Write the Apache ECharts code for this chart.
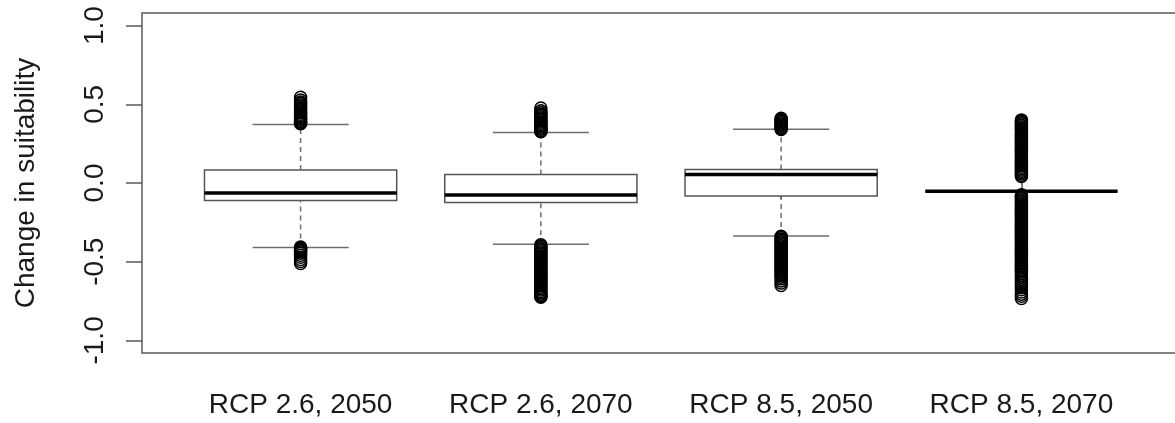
<!DOCTYPE html>
<html>
<head>
<meta charset="utf-8">
<script src="https://cdn.jsdelivr.net/npm/echarts@6/dist/echarts.min.js"></script>
<style>
  html, body { margin: 0; padding: 0; background: #fff; }
  #chart { width: 1175px; height: 423px; }
</style>
</head>
<body>
<div id="chart"></div>
<script>
// Scenario groups along the x axis
const categories = ['RCP 2.6, 2050', 'RCP 2.6, 2070', 'RCP 8.5, 2050', 'RCP 8.5, 2070'];

// Five-number summaries per group: [lower whisker, Q1, median, Q3, upper whisker]
const boxStats = [
  [-0.410, -0.111, -0.063, 0.082, 0.372],
  [-0.389, -0.124, -0.077, 0.054, 0.321],
  [-0.336, -0.082, 0.054, 0.086, 0.341],
  [-0.052, -0.052, -0.052, -0.052, -0.052]
];

// Outlying values per group
const outliers1 = [
  0.545, 0.527, 0.515, 0.506, 0.497, 0.489, 0.480, 0.471, 0.463, 0.454, 0.446,
  0.437, 0.429, 0.421, 0.413, 0.405, 0.398, 0.391, 0.385, 0.380, 0.376,
  -0.406, -0.411, -0.417, -0.423, -0.429, -0.436, -0.446, -0.459, -0.472, -0.486, -0.499, -0.512
];
const outliers2 = [
  0.476, 0.459, 0.448, 0.439, 0.430, 0.421, 0.413, 0.404, 0.396, 0.388, 0.379,
  0.371, 0.363, 0.356, 0.348, 0.341, 0.334, 0.329, 0.325,
  -0.393, -0.401, -0.410, -0.418, -0.427, -0.436, -0.444, -0.453, -0.462, -0.470,
  -0.479, -0.488, -0.497, -0.505, -0.514, -0.523, -0.531, -0.540, -0.549, -0.557,
  -0.566, -0.575, -0.584, -0.592, -0.601, -0.610, -0.618, -0.627, -0.636, -0.645,
  -0.653, -0.662, -0.671, -0.680, -0.689, -0.697, -0.706, -0.714, -0.721, -0.726
];
const outliers3 = [
  0.411, 0.404, 0.397, 0.390, 0.382, 0.375, 0.368, 0.361, 0.354, 0.347, 0.340,
  -0.339, -0.347, -0.356, -0.364, -0.373, -0.381, -0.390, -0.399, -0.407, -0.416,
  -0.425, -0.433, -0.442, -0.451, -0.459, -0.468, -0.477, -0.485, -0.494, -0.503,
  -0.511, -0.520, -0.529, -0.537, -0.546, -0.555, -0.563, -0.572, -0.581, -0.589,
  -0.598, -0.609, -0.622, -0.636, -0.651
];
const outliers4 = [
  0.401, 0.393, 0.384, 0.376, 0.367, 0.358, 0.350, 0.341, 0.333, 0.324, 0.315,
  0.307, 0.298, 0.290, 0.281, 0.272, 0.264, 0.255, 0.247, 0.238, 0.229, 0.221,
  0.212, 0.204, 0.195, 0.186, 0.178, 0.169, 0.161, 0.152, 0.143, 0.135, 0.126,
  0.118, 0.109, 0.100, 0.092, 0.083, 0.074, 0.066, 0.057, 0.049, 0.041,
  -0.074, -0.082, -0.091, -0.099, -0.108, -0.117, -0.125, -0.134, -0.143, -0.151,
  -0.160, -0.168, -0.177, -0.186, -0.194, -0.203, -0.212, -0.220, -0.229, -0.237,
  -0.246, -0.255, -0.263, -0.272, -0.281, -0.289, -0.298, -0.306, -0.315, -0.324,
  -0.332, -0.341, -0.350, -0.358, -0.367, -0.375, -0.384, -0.393, -0.401, -0.410,
  -0.419, -0.427, -0.436, -0.444, -0.453, -0.462, -0.470, -0.479, -0.488, -0.496,
  -0.505, -0.513, -0.522, -0.531, -0.539, -0.548, -0.556, -0.566, -0.577, -0.589,
  -0.601, -0.613, -0.626, -0.639, -0.652, -0.665, -0.678, -0.692, -0.706, -0.720, -0.734
];
const outlierGroups = [outliers1, outliers2, outliers3, outliers4];

// Axis ticks
const yTicks = [-1.0, -0.5, 0.0, 0.5, 1.0];
const xTicks = [1, 2, 3, 4];

const FONT = '"Liberation Sans", Arial, Helvetica, sans-serif';
const TEXT = '#1a1a1a';
const FRAME = '#5a5a5a';

const boxData = boxStats.map((s, i) => [i + 1].concat(s));
const outlierData = [];
outlierGroups.forEach((arr, i) => arr.forEach(v => outlierData.push([i + 1, v])));

function renderBox(params, api) {
  const x = api.value(0);
  const lo = api.value(1), q1 = api.value(2), med = api.value(3), q3 = api.value(4), hi = api.value(5);
  const halfBox = 0.4, halfStaple = 0.2;
  const pLo = api.coord([x, lo]), pQ1 = api.coord([x, q1]), pQ3 = api.coord([x, q3]), pHi = api.coord([x, hi]);
  const boxL = api.coord([x - halfBox, q3]), boxR = api.coord([x + halfBox, q1]);
  const stL = api.coord([x - halfStaple, lo]), stR = api.coord([x + halfStaple, lo]);
  const stL2 = api.coord([x - halfStaple, hi]), stR2 = api.coord([x + halfStaple, hi]);
  const mL = api.coord([x - halfBox, med]), mR = api.coord([x + halfBox, med]);
  const whisker = { stroke: '#6e6e6e', lineWidth: 1.5, lineDash: [5, 4] };
  const staple = { stroke: '#6e6e6e', lineWidth: 1.5 };
  return {
    type: 'group',
    children: [
      { type: 'line', shape: { x1: pLo[0], y1: pLo[1], x2: pQ1[0], y2: pQ1[1] }, style: whisker },
      { type: 'line', shape: { x1: pQ3[0], y1: pQ3[1], x2: pHi[0], y2: pHi[1] }, style: whisker },
      { type: 'line', shape: { x1: stL[0], y1: stL[1], x2: stR[0], y2: stR[1] }, style: staple },
      { type: 'line', shape: { x1: stL2[0], y1: stL2[1], x2: stR2[0], y2: stR2[1] }, style: staple },
      { type: 'rect', shape: { x: boxL[0], y: boxL[1], width: boxR[0] - boxL[0], height: boxR[1] - boxL[1] },
        style: { fill: '#fff', stroke: '#555', lineWidth: 1.5 } },
      { type: 'line', shape: { x1: mL[0], y1: mL[1], x2: mR[0], y2: mR[1] },
        style: { stroke: '#000', lineWidth: 3.5 } }
    ]
  };
}

const chart = echarts.init(document.getElementById('chart'), null, { renderer: 'canvas' });
chart.setOption({
  animation: false,
  backgroundColor: '#fff',
  grid: {
    show: true, left: 142, top: 13, width: 1038, height: 340,
    outerBoundsMode: 'none', containLabel: false,
    borderColor: FRAME, borderWidth: 1.5, backgroundColor: 'transparent'
  },
  xAxis: {
    type: 'value', min: 0.34, max: 4.66,
    axisLine: { show: false },
    splitLine: { show: false },
    axisTick: { show: true, inside: false, length: 16, customValues: xTicks,
      lineStyle: { color: FRAME, width: 1.5 } },
    axisLabel: { show: true, customValues: xTicks, margin: 38,
      formatter: v => categories[Math.round(v) - 1] || '',
      fontFamily: FONT, fontSize: 28, color: TEXT }
  },
  yAxis: {
    type: 'value', min: -1.08, max: 1.08,
    name: 'Change in suitability', nameLocation: 'middle', nameGap: 102,
    nameTextStyle: { fontFamily: FONT, fontSize: 28, color: TEXT },
    axisLine: { show: false },
    splitLine: { show: false },
    axisTick: { show: true, inside: false, length: 16, customValues: yTicks,
      lineStyle: { color: FRAME, width: 1.5 } },
    axisLabel: { show: true, customValues: yTicks, rotate: 90, margin: 33,
      formatter: v => v.toFixed(1),
      fontFamily: FONT, fontSize: 28, color: TEXT }
  },
  series: [
    {
      type: 'custom',
      renderItem: renderBox,
      data: boxData,
      encode: { x: 0, y: [1, 2, 3, 4, 5] },
      silent: true,
      z: 2
    },
    {
      type: 'scatter',
      data: outlierData,
      symbol: 'circle',
      symbolSize: 12,
      itemStyle: { color: 'rgba(0,0,0,0)', borderColor: '#000', borderWidth: 1.5, opacity: 1 },
      emphasis: { disabled: true },
      silent: true,
      z: 3
    }
  ]
});
</script>
</body>
</html>
